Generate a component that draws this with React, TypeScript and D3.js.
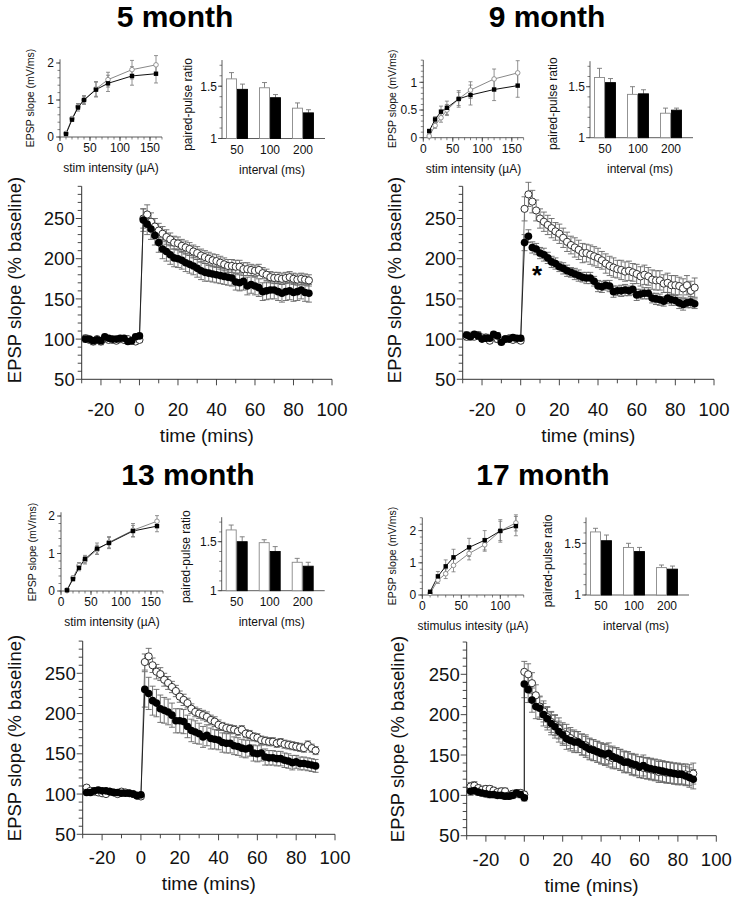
import React from 'react';
import * as d3 from 'd3';

const FONT = "'Liberation Sans', Arial, Helvetica, sans-serif";
const AXIS = '#333';
const ERRC = '#777';

// ---------- titles
const TITLES = ['5 month', '9 month', '13 month', '17 month'];

// ---------- input/output curves (stim intensity µA -> EPSP slope mV/ms)
const IO_STIM = [10, 20, 30, 40, 60, 80, 120, 160];
const IO_STIM_17 = [10, 20, 30, 40, 60, 80, 100, 120];

const IO5_BLACK = [0.08, 0.47, 0.8, 1.0, 1.28, 1.45, 1.65, 1.71];
const IO5_BLACK_ERR = [0.03, 0.05, 0.1, 0.12, 0.2, 0.22, 0.25, 0.25];
const IO5_OPEN = [0.1, 0.5, 0.82, 1.0, 1.3, 1.55, 1.82, 1.95];
const IO5_OPEN_ERR = [0.03, 0.05, 0.08, 0.1, 0.2, 0.2, 0.25, 0.25];

const IO9_BLACK = [0.12, 0.33, 0.47, 0.54, 0.7, 0.77, 0.87, 0.94];
const IO9_BLACK_ERR = [0.03, 0.05, 0.1, 0.12, 0.15, 0.18, 0.2, 0.21];
const IO9_OPEN = [0.03, 0.22, 0.36, 0.5, 0.7, 0.86, 1.06, 1.17];
const IO9_OPEN_ERR = [0.03, 0.05, 0.08, 0.1, 0.12, 0.15, 0.18, 0.22];

const IO13_BLACK = [0.02, 0.32, 0.62, 0.85, 1.13, 1.28, 1.6, 1.73];
const IO13_BLACK_ERR = [0.02, 0.05, 0.08, 0.1, 0.15, 0.15, 0.15, 0.15];
const IO13_OPEN = [0.03, 0.35, 0.68, 0.82, 1.1, 1.3, 1.62, 1.86];
const IO13_OPEN_ERR = [0.02, 0.05, 0.08, 0.1, 0.12, 0.15, 0.18, 0.15];

const IO17_BLACK = [0.1, 0.58, 0.89, 1.17, 1.48, 1.7, 1.99, 2.14];
const IO17_BLACK_ERR = [0.03, 0.15, 0.2, 0.25, 0.28, 0.3, 0.35, 0.3];
const IO17_OPEN = [0.05, 0.46, 0.66, 0.92, 1.29, 1.56, 1.99, 2.24];
const IO17_OPEN_ERR = [0.03, 0.1, 0.15, 0.2, 0.2, 0.2, 0.3, 0.25];

const IO_Y_TICKS_A = [0, 1, 2];
const IO_Y_TICKS_9 = [0, 0.5, 1];
const IO_X_TICKS_A = [0, 50, 100, 150];
const IO_X_TICKS_17 = [0, 50, 100];

// ---------- paired-pulse ratio
const PP_INTERVALS = ['50', '100', '200'];
const PP_Y_TICKS = [1, 1.5];

const PP5_OPEN = [1.57, 1.485, 1.29];
const PP5_OPEN_ERR = [0.06, 0.05, 0.05];
const PP5_BLACK = [1.47, 1.39, 1.245];
const PP5_BLACK_ERR = [0.05, 0.03, 0.03];

const PP9_OPEN = [1.59, 1.425, 1.24];
const PP9_OPEN_ERR = [0.09, 0.075, 0.05];
const PP9_BLACK = [1.54, 1.43, 1.27];
const PP9_BLACK_ERR = [0.04, 0.04, 0.02];

const PP13_OPEN = [1.62, 1.49, 1.29];
const PP13_OPEN_ERR = [0.05, 0.03, 0.04];
const PP13_BLACK = [1.5, 1.4, 1.25];
const PP13_BLACK_ERR = [0.05, 0.05, 0.04];

const PP17_OPEN = [1.61, 1.46, 1.265];
const PP17_OPEN_ERR = [0.035, 0.04, 0.025];
const PP17_BLACK = [1.525, 1.42, 1.25];
const PP17_BLACK_ERR = [0.055, 0.04, 0.03];

// ---------- LTP time courses (% baseline)
const T_BASE = [-28, -26, -24, -22, -20, -18, -16, -14, -12, -10, -8, -6, -4, -2, 0];
const T_POST_88 = [2, 4, 6, 8, 10, 12, 14, 16, 18, 20, 22, 24, 26, 28, 30, 32, 34, 36, 38, 40, 42, 44, 46, 48, 50, 52, 54, 56, 58, 60, 62, 64, 66, 68, 70, 72, 74, 76, 78, 80, 82, 84, 86, 88];
const T_POST_90 = [2, 4, 6, 8, 10, 12, 14, 16, 18, 20, 22, 24, 26, 28, 30, 32, 34, 36, 38, 40, 42, 44, 46, 48, 50, 52, 54, 56, 58, 60, 62, 64, 66, 68, 70, 72, 74, 76, 78, 80, 82, 84, 86, 88, 90];
const T_POST_0 = [0, 2, 4, 6, 8, 10, 12, 14, 16, 18, 20, 22, 24, 26, 28, 30, 32, 34, 36, 38, 40, 42, 44, 46, 48, 50, 52, 54, 56, 58, 60, 62, 64, 66, 68, 70, 72, 74, 76, 78, 80, 82, 84, 86, 88];

// 5 month
const L5_BASE_BLACK = [100, 100, 98, 99, 98, 103, 101, 100, 100, 101, 101, 97, 98, 103, 104];
const L5_BASE_OPEN = [101, 99, 97, 100, 97, 101, 99, 99, 98, 100, 99, 100, 98, 97, 99];
const L5_BASE_ERR = [4, 3, 4, 3, 4, 3, 3, 3, 3, 3, 3, 3, 4, 3, 3];
const L5_POST_BLACK = [248, 243, 237, 229, 220, 212, 209, 205, 201, 200, 198, 195, 193, 191, 188, 185, 183, 182, 181, 180, 179, 178, 177, 176, 171, 170, 172, 166, 168, 166, 164, 159, 160, 161, 161, 159, 157, 159, 160, 158, 159, 161, 158, 157];
const L5_POST_BLACK_ERR = [14, 13, 13, 12, 12, 12, 12, 12, 11, 11, 11, 11, 11, 11, 11, 11, 11, 10, 10, 10, 10, 10, 10, 10, 10, 10, 11, 11, 11, 11, 11, 11, 11, 11, 11, 11, 11, 11, 11, 11, 11, 11, 11, 11];
const L5_POST_OPEN = [250, 255, 246, 240, 235, 231, 227, 224, 220, 219, 216, 214, 212, 209, 207, 204, 202, 200, 198, 197, 195, 193, 191, 191, 190, 190, 187, 187, 186, 185, 186, 182, 180, 177, 176, 176, 175, 176, 177, 175, 174, 175, 174, 173];
const L5_POST_OPEN_ERR = [12, 12, 11, 10, 9, 9, 9, 8, 8, 8, 8, 8, 8, 8, 8, 8, 8, 8, 8, 8, 8, 8, 8, 8, 8, 8, 8, 8, 7, 7, 7, 7, 7, 7, 7, 7, 7, 7, 7, 7, 7, 7, 7, 7];

// 9 month
const L9_BASE_BLACK = [105, 103, 106, 104, 100, 101, 101, 106, 104, 96, 100, 100, 102, 101, 101];
const L9_BASE_OPEN = [103, 104, 103, 105, 102, 102, 98, 104, 100, 98, 100, 101, 99, 100, 98];
const L9_BASE_ERR = [4, 4, 3, 4, 3, 4, 3, 3, 4, 3, 3, 3, 3, 3, 3];
const L9_POST_BLACK = [220, 228, 214, 212, 207, 205, 201, 196, 194, 190, 188, 185, 183, 181, 179, 177, 176, 176, 172, 166, 165, 167, 166, 159, 160, 160, 161, 160, 162, 155, 156, 157, 157, 151, 150, 149, 147, 151, 149, 148, 145, 143, 145, 146, 144];
const L9_POST_BLACK_ERR = [10, 8, 7, 7, 7, 8, 7, 7, 7, 6, 7, 7, 6, 7, 7, 6, 7, 7, 6, 7, 7, 6, 7, 7, 6, 7, 7, 6, 7, 7, 6, 7, 7, 6, 7, 7, 6, 7, 7, 6, 7, 7, 6, 7, 6];
const L9_POST_OPEN = [262, 280, 271, 260, 250, 246, 242, 238, 234, 231, 226, 221, 217, 214, 211, 207, 207, 205, 203, 201, 198, 194, 191, 189, 187, 186, 184, 185, 183, 181, 178, 180, 178, 174, 173, 173, 169, 170, 167, 167, 166, 163, 167, 160, 164];
const L9_POST_OPEN_ERR = [15, 15, 14, 13, 12, 12, 12, 12, 11, 12, 12, 12, 11, 12, 12, 12, 11, 12, 12, 12, 11, 12, 12, 12, 11, 12, 12, 12, 11, 12, 12, 12, 11, 12, 12, 12, 11, 12, 12, 12, 11, 12, 12, 12, 12];

// 13 month
const L13_BASE_BLACK = [102, 102, 104, 105, 104, 104, 103, 102, 102, 101, 101, 101, 100, 98, 99];
const L13_BASE_OPEN = [108, 104, 103, 102, 101, 100, 103, 102, 100, 103, 102, 101, 100, 98, 97];
const L13_BASE_ERR = [3, 3, 3, 3, 3, 3, 3, 3, 3, 3, 3, 3, 3, 3, 3];
const L13_POST_BLACK = [230, 225, 216, 213, 206, 204, 202, 198, 191, 191, 190, 184, 179, 177, 175, 171, 173, 169, 168, 167, 164, 163, 163, 160, 159, 157, 156, 157, 151, 150, 151, 146, 145, 145, 144, 144, 142, 141, 139, 140, 138, 138, 137, 136, 135];
const L13_POST_BLACK_ERR = [22, 20, 18, 17, 17, 16, 16, 15, 15, 15, 15, 14, 14, 14, 13, 13, 13, 13, 12, 12, 12, 12, 12, 11, 11, 11, 11, 10, 10, 10, 10, 10, 9, 9, 9, 9, 9, 9, 9, 8, 8, 8, 8, 8, 8];
const L13_POST_OPEN = [264, 271, 260, 252, 249, 242, 238, 233, 228, 221, 217, 213, 206, 202, 200, 198, 196, 192, 190, 186, 184, 182, 181, 180, 178, 180, 175, 174, 171, 170, 167, 166, 165, 165, 163, 164, 162, 161, 160, 159, 158, 157, 161, 157, 154];
const L13_POST_OPEN_ERR = [10, 10, 9, 9, 8, 8, 8, 7, 7, 7, 7, 6, 6, 6, 6, 6, 6, 6, 6, 6, 5, 5, 5, 5, 5, 5, 5, 5, 5, 5, 5, 5, 5, 5, 5, 5, 5, 5, 5, 5, 5, 5, 5, 5, 5];

// 17 month
const L17_BASE_BLACK = [105, 106, 104, 103, 102, 101, 101, 100, 100, 99, 99, 100, 103, 101, 97];
const L17_BASE_OPEN = [111, 112, 109, 107, 108, 108, 106, 104, 105, 105, 100, 102, 102, 103, 101];
const L17_BASE_ERR = [5, 5, 4, 4, 4, 4, 4, 4, 4, 4, 4, 4, 4, 4, 4];
const L17_POST_BLACK = [238, 231, 218, 210, 208, 200, 195, 189, 185, 179, 175, 170, 168, 166, 166, 163, 160, 157, 156, 154, 152, 151, 152, 148, 146, 144, 141, 141, 139, 138, 135, 137, 134, 133, 132, 131, 130, 129, 128, 127, 126, 126, 124, 122, 120];
const L17_POST_BLACK_ERR = [17, 16, 15, 15, 14, 14, 14, 14, 14, 13, 13, 13, 13, 13, 13, 13, 13, 13, 13, 13, 13, 13, 13, 13, 13, 13, 13, 13, 13, 13, 13, 13, 13, 13, 13, 13, 13, 13, 13, 13, 13, 12, 12, 12, 12];
const L17_POST_OPEN = [253, 250, 239, 224, 210, 204, 197, 191, 187, 183, 177, 175, 171, 168, 166, 163, 162, 158, 156, 154, 152, 150, 148, 146, 146, 144, 142, 141, 138, 137, 135, 134, 133, 132, 131, 129, 129, 128, 128, 127, 127, 126, 126, 125, 127];
const L17_POST_OPEN_ERR = [13, 13, 13, 13, 13, 13, 13, 13, 13, 13, 13, 13, 13, 13, 13, 13, 13, 13, 13, 13, 13, 13, 13, 13, 13, 13, 13, 13, 13, 13, 13, 13, 13, 13, 13, 13, 13, 13, 13, 13, 13, 13, 13, 13, 13];

const LTP_Y_TICKS = [50, 100, 150, 200, 250];
const LTP_X_TICKS = [-20, 0, 20, 40, 60, 80, 100];

// ======================================================================
type Pt = { t: number; v: number; e: number };
const zip = (t: number[], v: number[], e: number[]): Pt[] => t.map((tt, i) => ({ t: tt, v: v[i], e: e[i] }));

function IOPlot({ g }: any) {
  const x = d3.scaleLinear().domain([0, g.xMax]).range([g.x0, g.x0 + g.xMax * g.xs]);
  const y = d3.scaleLinear().domain([0, g.yMax]).range([g.y0, g.y0 - g.yMax * g.ys]);
  const line = d3.line<number>().x((_, i) => x(g.stim[i])).y((d) => y(d));
  const yMinor = d3.range(0, g.yMax + 1e-9, g.yMinor);
  const xMinor = d3.range(0, g.xMax + 1e-9, 10);
  const errs = (vals: number[], es: number[], key: string) =>
    vals.map((v, i) => {
      const cx = x(g.stim[i]);
      return (
        <g key={key + i} stroke={ERRC} strokeWidth={0.8}>
          <line x1={cx} x2={cx} y1={y(v - es[i])} y2={y(v + es[i])} />
          <line x1={cx - 2} x2={cx + 2} y1={y(v - es[i])} y2={y(v - es[i])} />
          <line x1={cx - 2} x2={cx + 2} y1={y(v + es[i])} y2={y(v + es[i])} />
        </g>
      );
    });
  return (
    <g>
      <line x1={g.x0} x2={g.x0} y1={y(0)} y2={y(g.yMax)} stroke={AXIS} strokeWidth={0.8} />
      <line x1={g.x0} x2={x(g.xMax)} y1={y(0)} y2={y(0)} stroke={AXIS} strokeWidth={0.8} />
      {yMinor.map((v, i) => (
        <line key={'ym' + i} x1={g.x0} x2={g.x0 - 2.5} y1={y(v)} y2={y(v)} stroke={AXIS} strokeWidth={0.6} />
      ))}
      {g.yTicks.map((v: number) => (
        <g key={'yt' + v}>
          <line x1={g.x0} x2={g.x0 - 4} y1={y(v)} y2={y(v)} stroke={AXIS} strokeWidth={0.8} />
          <text x={g.x0 - 6} y={y(v)} dy="0.36em" textAnchor="end" fontSize={12} fill="#111">{v}</text>
        </g>
      ))}
      {xMinor.map((v, i) => (
        <line key={'xm' + i} x1={x(v)} x2={x(v)} y1={y(0)} y2={y(0) + 2.5} stroke={AXIS} strokeWidth={0.6} />
      ))}
      {g.xTicks.map((v: number) => (
        <g key={'xt' + v}>
          <line x1={x(v)} x2={x(v)} y1={y(0)} y2={y(0) + 4} stroke={AXIS} strokeWidth={0.8} />
          <text x={x(v)} y={y(0) + 15} textAnchor="middle" fontSize={12} fill="#111">{v}</text>
        </g>
      ))}
      <text x={(g.x0 + x(g.xMax)) / 2} y={y(0) + 35} textAnchor="middle" fontSize={12} fill="#111">{g.xLabel}</text>
      <text transform={`translate(${g.ylx},${g.y0 - 39}) rotate(-90)`} textAnchor="middle" fontSize={10.5} fill="#111">EPSP slope (mV/ms)</text>
      {errs(g.open, g.openErr, 'oe')}
      {errs(g.black, g.blackErr, 'be')}
      <path d={line(g.open) || ''} fill="none" stroke="#888" strokeWidth={1} />
      <path d={line(g.black) || ''} fill="none" stroke="#111" strokeWidth={1} />
      {g.open.map((v: number, i: number) => (
        <circle key={'oc' + i} cx={x(g.stim[i])} cy={y(v)} r={2.3} fill="#fff" stroke="#888" strokeWidth={0.9} />
      ))}
      {g.black.map((v: number, i: number) => (
        <rect key={'bs' + i} x={x(g.stim[i]) - 2.2} y={y(v) - 2.2} width={4.4} height={4.4} fill="#000" />
      ))}
    </g>
  );
}

function PPPlot({ g }: any) {
  const y = d3.scaleLinear().domain([1, 1.75]).range([g.y1, g.y1 - 0.75 * g.ys]);
  const xb = d3.scaleBand().domain(PP_INTERVALS).range([g.ax + 4, g.ax + 4 + 88]).paddingInner(1 / 3).paddingOuter(0);
  const sub = d3.scaleBand().domain(['open', 'black']).range([0, xb.bandwidth()]);
  const yMinor = d3.range(1, 1.75 + 1e-9, 0.1);
  const bar = (vals: number[], es: number[], key: string, fill: string, stroke: string) =>
    vals.map((v, i) => {
      const bx = (xb(PP_INTERVALS[i]) as number) + (sub(key) as number);
      const bw = sub.bandwidth();
      const cx = bx + bw / 2;
      return (
        <g key={key + i}>
          <line x1={cx} x2={cx} y1={y(v)} y2={y(v + es[i])} stroke={ERRC} strokeWidth={0.9} />
          <line x1={cx - 2.5} x2={cx + 2.5} y1={y(v + es[i])} y2={y(v + es[i])} stroke={ERRC} strokeWidth={0.9} />
          <rect x={bx + 0.5} y={y(v)} width={bw - 1} height={y(1) - y(v)} fill={fill} stroke={stroke} strokeWidth={0.9} />
        </g>
      );
    });
  return (
    <g>
      <line x1={g.ax} x2={g.ax} y1={y(1)} y2={y(1.75)} stroke={AXIS} strokeWidth={0.8} />
      <line x1={g.ax} x2={g.ax + 103} y1={y(1)} y2={y(1)} stroke={AXIS} strokeWidth={0.8} />
      {yMinor.map((v, i) => (
        <line key={'pm' + i} x1={g.ax} x2={g.ax - 2.5} y1={y(v)} y2={y(v)} stroke={AXIS} strokeWidth={0.6} />
      ))}
      {PP_Y_TICKS.map((v) => (
        <g key={'pt' + v}>
          <line x1={g.ax} x2={g.ax - 4} y1={y(v)} y2={y(v)} stroke={AXIS} strokeWidth={0.8} />
          <text x={g.ax - 5} y={y(v)} dy="0.36em" textAnchor="end" fontSize={12} fill="#111">{v}</text>
        </g>
      ))}
      {bar(g.open, g.openErr, 'open', '#fff', '#888')}
      {bar(g.black, g.blackErr, 'black', '#000', '#000')}
      {PP_INTERVALS.map((c) => (
        <text key={'pl' + c} x={(xb(c) as number) + xb.bandwidth() / 2} y={y(1) + 15} textAnchor="middle" fontSize={12} fill="#111">{c}</text>
      ))}
      <text x={g.ax + 50} y={y(1) + 35} textAnchor="middle" fontSize={12} fill="#111">interval (ms)</text>
      <text transform={`translate(${g.ylx},${g.y1 - 34}) rotate(-90)`} textAnchor="middle" fontSize={12} fill="#111">paired-pulse ratio</text>
    </g>
  );
}

function LtpPlot({ g }: any) {
  const x = d3.scaleLinear().domain([-30, 100]).range([g.x0, g.x1]);
  const y = d3.scaleLinear().domain([50, 290]).range([g.yB, g.yB - 240 * g.ys]);
  const yMinor = d3.range(50, 291, 10);
  const xMinor = d3.range(-30, 101, 10);
  const black: Pt[] = [...zip(T_BASE, g.bBase, g.baseErr), ...zip(g.tPost, g.bPost, g.bPostErr)];
  const open: Pt[] = [...zip(T_BASE, g.oBase, g.baseErr), ...zip(g.tPost, g.oPost, g.oPostErr)];
  const errs = (pts: Pt[], key: string) =>
    pts.map((p, i) => {
      const cx = x(p.t);
      return (
        <g key={key + i} stroke="#666" strokeWidth={0.9}>
          <line x1={cx} x2={cx} y1={y(p.v - p.e)} y2={y(p.v + p.e)} />
          <line x1={cx - 3} x2={cx + 3} y1={y(p.v - p.e)} y2={y(p.v - p.e)} />
          <line x1={cx - 3} x2={cx + 3} y1={y(p.v + p.e)} y2={y(p.v + p.e)} />
        </g>
      );
    });
  const nb = T_BASE.length;
  return (
    <g>
      <line x1={g.x0} x2={g.x0} y1={y(50)} y2={y(290)} stroke={AXIS} strokeWidth={1} />
      <line x1={g.x0} x2={x(100)} y1={y(50)} y2={y(50)} stroke={AXIS} strokeWidth={1} />
      {yMinor.map((v) => (
        <line key={'ly' + v} x1={g.x0} x2={g.x0 - (v % 50 === 0 ? 6 : 4)} y1={y(v)} y2={y(v)} stroke={AXIS} strokeWidth={0.9} />
      ))}
      {xMinor.map((v) => (
        <line key={'lx' + v} x1={x(v)} x2={x(v)} y1={y(50)} y2={y(50) + (v % 20 === 0 ? 6 : 4)} stroke={AXIS} strokeWidth={0.9} />
      ))}
      {LTP_Y_TICKS.map((v) => (
        <text key={'lyt' + v} x={g.x0 - 7} y={y(v)} dy="0.36em" textAnchor="end" fontSize={18.5} fill="#111">{v}</text>
      ))}
      {LTP_X_TICKS.map((v) => (
        <text key={'lxt' + v} x={x(v)} y={y(50) + g.tickOff} textAnchor="middle" fontSize={18.5} fill="#111">{v}</text>
      ))}
      <text x={(g.x0 + x(100)) / 2} y={y(50) + g.titleOff} textAnchor="middle" fontSize={19} fill="#111">time (mins)</text>
      <text transform={`translate(${g.ylx},${g.yly}) rotate(-90)`} textAnchor="middle" fontSize={18.5} fill="#111">EPSP slope (% baseline)</text>
      {errs(open, 'oe')}
      {errs(black, 'be')}
      <line x1={x(open[nb - 1].t)} y1={y(open[nb - 1].v)} x2={x(open[nb].t)} y2={y(open[nb].v)} stroke="#777" strokeWidth={1} />
      <line x1={x(black[nb - 1].t)} y1={y(black[nb - 1].v)} x2={x(black[nb].t)} y2={y(black[nb].v)} stroke="#222" strokeWidth={1} />
      {open.map((p, i) => (
        <circle key={'oc' + i} cx={x(p.t)} cy={y(p.v)} r={3.6} fill="#fff" stroke="#333" strokeWidth={1} />
      ))}
      {black.map((p, i) => (
        <circle key={'bc' + i} cx={x(p.t)} cy={y(p.v)} r={3.8} fill="#000" />
      ))}
      {g.star ? (
        <text x={x(g.star[0])} y={y(g.star[1])} textAnchor="middle" fontSize={26} fontWeight="bold" fill="#000">*</text>
      ) : null}
    </g>
  );
}

const PANELS = [
  {
    title: TITLES[0], tx: 175, ty: 27,
    io: { stim: IO_STIM, xMax: 170, x0: 60, xs: 0.6, yMax: 2.1, y0: 137, ys: 37, yMinor: 0.2, yTicks: IO_Y_TICKS_A, xTicks: IO_X_TICKS_A, xLabel: 'stim intensity (µA)', ylx: 34, black: IO5_BLACK, blackErr: IO5_BLACK_ERR, open: IO5_OPEN, openErr: IO5_OPEN_ERR },
    pp: { ax: 222, y1: 138.5, ys: 104.6, ylx: 192, open: PP5_OPEN, openErr: PP5_OPEN_ERR, black: PP5_BLACK, blackErr: PP5_BLACK_ERR },
    ltp: { x0: 81.7, x1: 332, yB: 379.3, ys: 0.804, tickOff: 37, titleOff: 63, ylx: 21, yly: 280, tPost: T_POST_88, bBase: L5_BASE_BLACK, oBase: L5_BASE_OPEN, baseErr: L5_BASE_ERR, bPost: L5_POST_BLACK, bPostErr: L5_POST_BLACK_ERR, oPost: L5_POST_OPEN, oPostErr: L5_POST_OPEN_ERR },
  },
  {
    title: TITLES[1], tx: 547, ty: 27,
    io: { stim: IO_STIM, xMax: 170, x0: 423.3, xs: 0.59, yMax: 1.4, y0: 137.7, ys: 55.4, yMinor: 0.1, yTicks: IO_Y_TICKS_9, xTicks: IO_X_TICKS_A, xLabel: 'stim intensity (µA)', ylx: 396, black: IO9_BLACK, blackErr: IO9_BLACK_ERR, open: IO9_OPEN, openErr: IO9_OPEN_ERR },
    pp: { ax: 590, y1: 137.7, ys: 102, ylx: 557, open: PP9_OPEN, openErr: PP9_OPEN_ERR, black: PP9_BLACK, blackErr: PP9_BLACK_ERR },
    ltp: { x0: 462.7, x1: 714, yB: 379.3, ys: 0.804, tickOff: 37, titleOff: 63, ylx: 401, yly: 280, tPost: T_POST_90, bBase: L9_BASE_BLACK, oBase: L9_BASE_OPEN, baseErr: L9_BASE_ERR, bPost: L9_POST_BLACK, bPostErr: L9_POST_BLACK_ERR, oPost: L9_POST_OPEN, oPostErr: L9_POST_OPEN_ERR, star: [8.5, 168] },
  },
  {
    title: TITLES[2], tx: 188, ty: 485,
    io: { stim: IO_STIM, xMax: 170, x0: 61, xs: 0.6, yMax: 2.1, y0: 591, ys: 37.5, yMinor: 0.2, yTicks: IO_Y_TICKS_A, xTicks: IO_X_TICKS_A, xLabel: 'stim intensity (µA)', ylx: 36, black: IO13_BLACK, blackErr: IO13_BLACK_ERR, open: IO13_OPEN, openErr: IO13_OPEN_ERR },
    pp: { ax: 221.7, y1: 590.7, ys: 98, ylx: 190, open: PP13_OPEN, openErr: PP13_OPEN_ERR, black: PP13_BLACK, blackErr: PP13_BLACK_ERR },
    ltp: { x0: 82.7, x1: 335, yB: 834.3, ys: 0.805, tickOff: 30, titleOff: 56, ylx: 21, yly: 738, tPost: T_POST_90, bBase: L13_BASE_BLACK, oBase: L13_BASE_OPEN, baseErr: L13_BASE_ERR, bPost: L13_POST_BLACK, bPostErr: L13_POST_BLACK_ERR, oPost: L13_POST_OPEN, oPostErr: L13_POST_OPEN_ERR },
  },
  {
    title: TITLES[3], tx: 543, ty: 485,
    io: { stim: IO_STIM_17, xMax: 130, x0: 422.3, xs: 0.78, yMax: 2.4, y0: 595, ys: 32.2, yMinor: 0.2, yTicks: IO_Y_TICKS_A, xTicks: IO_X_TICKS_17, xLabel: 'stimulus intesity (µA)', ylx: 396, black: IO17_BLACK, blackErr: IO17_BLACK_ERR, open: IO17_OPEN, openErr: IO17_OPEN_ERR },
    pp: { ax: 586, y1: 595, ys: 103.4, ylx: 552, open: PP17_OPEN, openErr: PP17_OPEN_ERR, black: PP17_BLACK, blackErr: PP17_BLACK_ERR },
    ltp: { x0: 466.7, x1: 716.3, yB: 835.7, ys: 0.807, tickOff: 30, titleOff: 56, ylx: 404, yly: 739, tPost: T_POST_0, bBase: L17_BASE_BLACK, oBase: L17_BASE_OPEN, baseErr: L17_BASE_ERR, bPost: L17_POST_BLACK, bPostErr: L17_POST_BLACK_ERR, oPost: L17_POST_OPEN, oPostErr: L17_POST_OPEN_ERR },
  },
];

export default function App() {
  return (
    <svg
      width={732}
      height={900}
      viewBox="0 0 732 900"
      style={{ position: 'absolute', left: 0, top: 0, display: 'block', background: '#fff' }}
      fontFamily={FONT}
    >
      <rect x={0} y={0} width={732} height={900} fill="#fff" />
      {PANELS.map((p, i) => (
        <g key={i}>
          <text x={p.tx} y={p.ty} textAnchor="middle" fontSize={30} fontWeight="bold" fill="#000">{p.title}</text>
          <IOPlot g={p.io} />
          <PPPlot g={p.pp} />
          <LtpPlot g={p.ltp} />
        </g>
      ))}
    </svg>
  );
}
